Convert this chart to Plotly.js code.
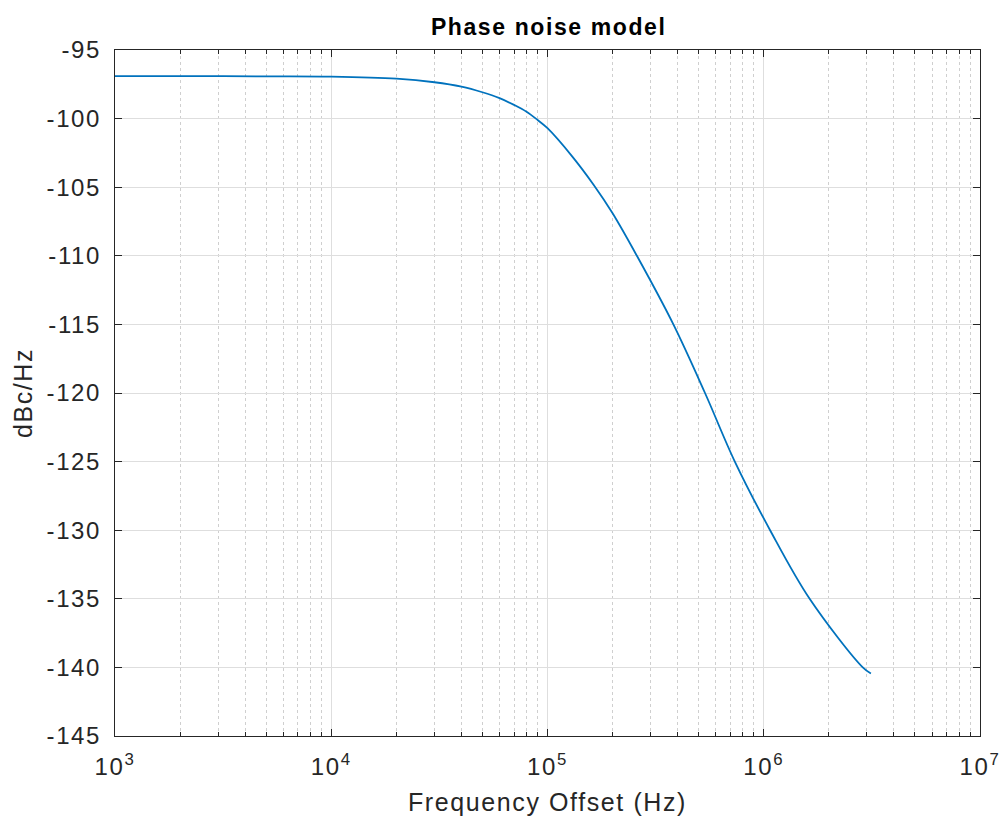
<!DOCTYPE html>
<html>
<head>
<meta charset="utf-8">
<script src="https://cdn.plot.ly/plotly-3.0.1.min.js"></script>
<style>
html,body{margin:0;padding:0;background:#fff;}
#chart{width:1004px;height:827px;}
#chart text{letter-spacing:1.6px;}
</style>
</head>
<body>
<div id="chart"></div>
<script>
// Frequency offsets (Hz) and phase noise level (dBc/Hz)
const freqHz = [1e3, 2e3, 5e3, 1e4, 2e4, 3e4, 4e4, 5e4, 6e4, 7e4, 8e4, 9e4, 1e5, 1.3e5, 1.63e5, 2e5, 2.59e5, 3.82e5, 5.35e5, 7.35e5, 1.07e6, 1.63e6, 2.87e6, 3.13e6];
const noiseDbc = [-96.9, -96.9, -96.92, -96.94, -97.09, -97.35, -97.67, -98.08, -98.51, -99.0, -99.5, -100.1, -100.7, -102.75, -104.8, -106.9, -110.0, -115.0, -120.0, -125.0, -130.0, -135.0, -140.0, -140.45];
const xTickVals = [1e3, 1e4, 1e5, 1e6, 1e7];
const xTickText = ['10<sup>3</sup>', '10<sup>4</sup>', '10<sup>5</sup>', '10<sup>6</sup>', '10<sup>7</sup>'];
const yTickVals = [-145, -140, -135, -130, -125, -120, -115, -110, -105, -100, -95];
const yTickText = yTickVals.map(v => String(v));

const fam = 'Liberation Sans, Arial, Helvetica, sans-serif';

Plotly.newPlot('chart', [{
  x: freqHz,
  y: noiseDbc,
  type: 'scatter',
  mode: 'lines',
  line: {color: '#0072BD', width: 1.8, shape: 'spline', smoothing: 1},
  hoverinfo: 'skip'
}], {
  width: 1004, height: 827,
  margin: {l: 115, r: 24, t: 50, b: 91},
  paper_bgcolor: '#ffffff', plot_bgcolor: '#ffffff',
  showlegend: false,
  font: {family: fam, size: 24, color: '#262626'},
  title: {text: '<b>Phase noise model</b>', font: {family: fam, size: 23, color: '#000'}, x: 0.5465, xanchor: 'center', y: 0.967, yanchor: 'middle'},
  xaxis: {
    type: 'log', range: [3, 7],
    tickvals: xTickVals, ticktext: xTickText,
    ticks: 'inside', ticklen: 7, tickcolor: '#262626', tickwidth: 1,
    showline: true, linecolor: '#262626', linewidth: 1.2, mirror: 'allticks',
    showgrid: true, gridcolor: '#dedede', gridwidth: 1,
    zeroline: false,
    ticklabelstandoff: 9,
    tickfont: {family: fam, size: 24, color: '#262626'},
    minor: {dtick: 'D1', ticks: 'inside', ticklen: 4, tickcolor: '#262626', showgrid: true, gridcolor: '#cfcfcf', griddash: 'dot', gridwidth: 1},
    title: {text: 'Frequency Offset (Hz)', font: {family: fam, size: 25, color: '#262626'}, standoff: 14}
  },
  yaxis: {
    range: [-145, -95],
    tickvals: yTickVals, ticktext: yTickText,
    ticks: 'inside', ticklen: 7, tickcolor: '#262626', tickwidth: 1,
    showline: true, linecolor: '#262626', linewidth: 1.2, mirror: 'allticks',
    showgrid: true, gridcolor: '#dedede', gridwidth: 1,
    zeroline: false,
    ticklabelstandoff: 8,
    tickfont: {family: fam, size: 24, color: '#262626'},
    title: {text: 'dBc/Hz', font: {family: fam, size: 25, color: '#262626'}, standoff: 13}
  }
}, {staticPlot: true, displayModeBar: false});
</script>
</body>
</html>
